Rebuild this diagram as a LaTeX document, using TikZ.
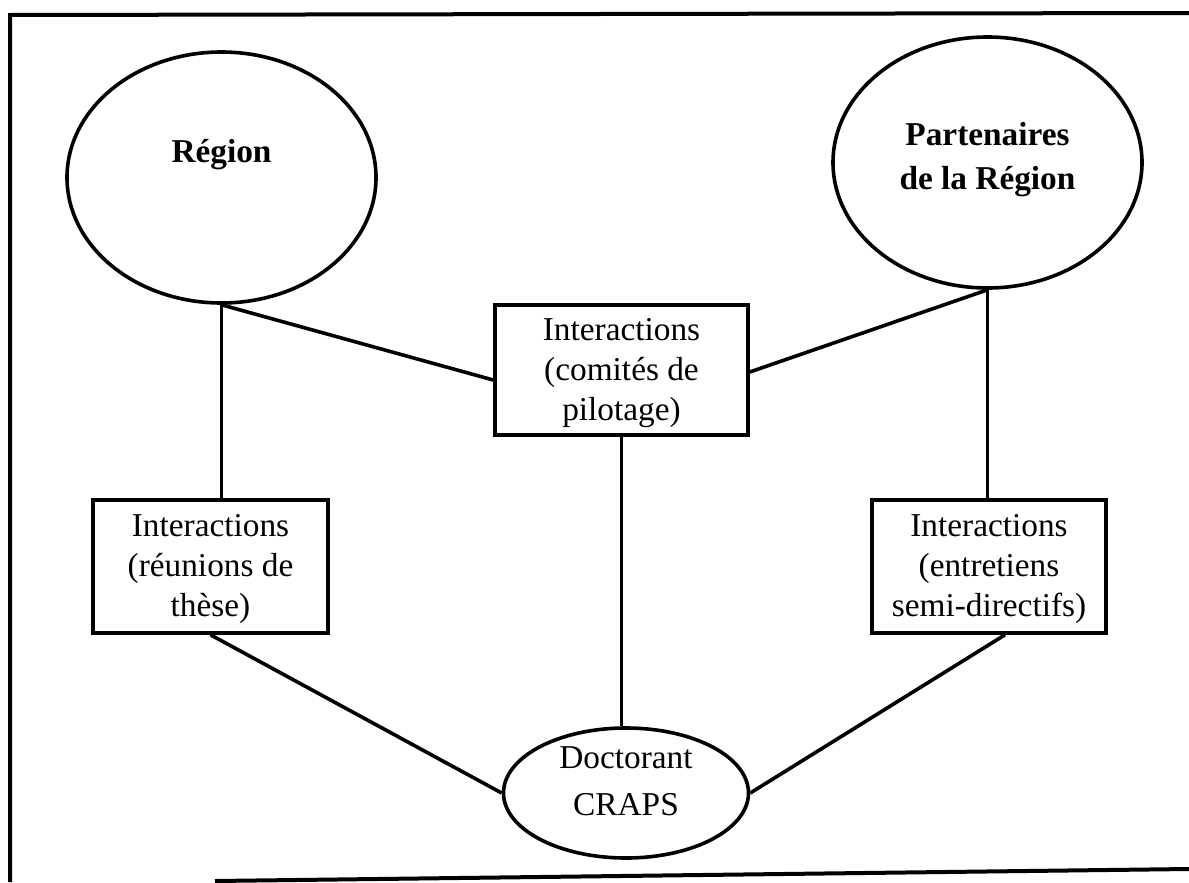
\documentclass[tikz,border=0pt]{standalone}
\usepackage{fontspec}
\setmainfont{Liberation Serif}
\usetikzlibrary{shapes.geometric}
\tikzset{
  px/.style={x=0.75pt,y=-0.75pt},
  thick3/.style={line width=2.7pt},
  bubble/.style={draw,thick3,ellipse,inner sep=0pt},
  infobox/.style={draw,thick3,rectangle,inner sep=0pt,align=center,
    font=\fontsize{25}{30}\selectfont},
  boldtxt/.style={align=center,inner sep=0pt,font=\fontsize{25}{33}\selectfont\bfseries},
  link/.style={thick3},
}
\begin{document}
\begin{tikzpicture}[px]
\useasboundingbox (0,0) rectangle (1189,882);
% frame
\draw[line width=3pt] (10,882) -- (10,15) -- (1189,13);
\draw[line width=3pt] (215,881) -- (1189,869);
% nodes
\node[bubble,minimum width=309*0.75pt,minimum height=251*0.75pt] (reg) at (221.5,177.5) {};
\node[boldtxt] (regt) at (221.5,155) {Région};
\node[bubble,minimum width=309*0.75pt,minimum height=251*0.75pt] (par) at (987.5,162.5) {};
\node[boldtxt] (part) at (987.5,160) {Partenaires\\de la Région};
\node[infobox,minimum width=253*0.75pt,minimum height=130*0.75pt] (mid) at (621.5,370) {};
\node[align=center,inner sep=0pt,font=\fontsize{25}{30}\selectfont] (midt) at (621.5,373) {Interactions\\(comités de\\pilotage)};
\node[infobox,minimum width=235*0.75pt,minimum height=133*0.75pt] (lb) at (210.5,566.5) {};
\node[align=center,inner sep=0pt,font=\fontsize{25}{30}\selectfont] (lbt) at (210.5,569) {Interactions\\(réunions de\\thèse)};
\node[infobox,minimum width=234*0.75pt,minimum height=133*0.75pt] (rb) at (989,566.5) {};
\node[align=center,inner sep=0pt,font=\fontsize{25}{30}\selectfont] (rbt) at (989,569) {Interactions\\(entretiens\\semi-directifs)};
\node[bubble,minimum width=245*0.75pt,minimum height=130*0.75pt] (doc) at (626,793) {};
\node[align=center,inner sep=0pt,font=\fontsize{25}{35}\selectfont] (doct) at (626,781) {Doctorant\\CRAPS};
% connectors
\draw[link] (reg.south) -- (reg.south |- lb.north);
\draw[link] (reg.south) -- ([yshift=-7.5pt]mid.west);
\draw[link] (par.south) -- (par.south |- rb.north);
\draw[link] (par.south) -- ([yshift=-1.5pt]mid.east);
\draw[link] (mid.south) -- (mid.south |- doc.north);
\draw[link] (lb.south) -- (doc.west);
\draw[link] ([xshift=12pt]rb.south) -- (doc.east);
\end{tikzpicture}
\end{document}
